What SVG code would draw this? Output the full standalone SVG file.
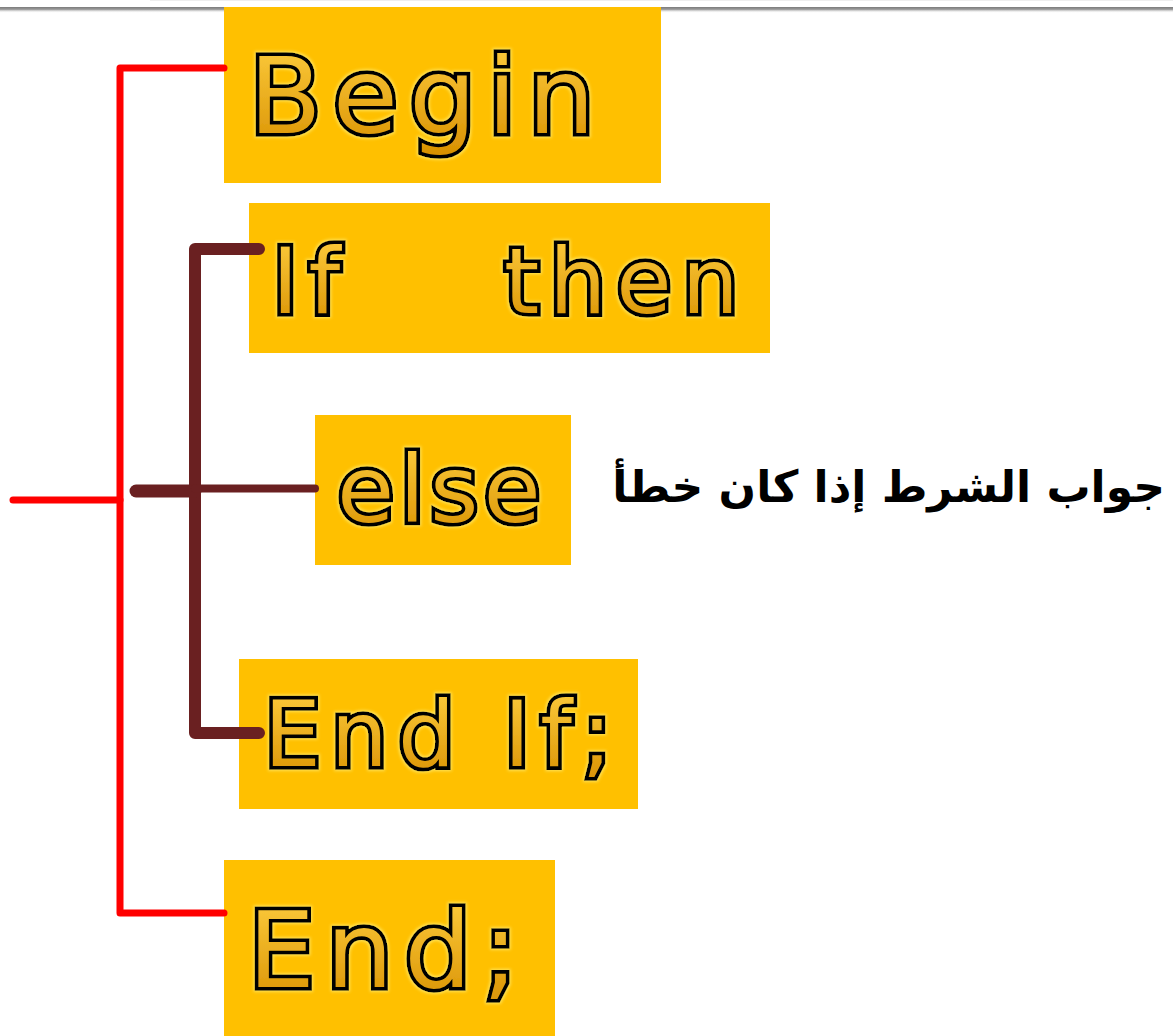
<svg xmlns="http://www.w3.org/2000/svg" width="1173" height="1036" viewBox="0 0 1173 1036">
  <defs>
    <linearGradient id="gold" x1="0" y1="0" x2="0" y2="1">
      <stop offset="0" stop-color="#FFCF40"/>
      <stop offset="1" stop-color="#D78F00"/>
    </linearGradient>
    <linearGradient id="rule" x1="0" y1="0" x2="0" y2="1">
      <stop offset="0" stop-color="#7a7a7a"/>
      <stop offset="0.4" stop-color="#9a9a9a"/>
      <stop offset="1" stop-color="#ffffff" stop-opacity="0"/>
    </linearGradient>
    <filter id="glow" x="-10%" y="-20%" width="120%" height="140%">
      <feMorphology in="SourceAlpha" operator="dilate" radius="1" result="fat"/>
      <feGaussianBlur in="fat" stdDeviation="1.8" result="soft"/>
      <feFlood flood-color="#FFE45A"/>
      <feComposite in2="soft" operator="in" result="halo"/>
      <feMerge>
        <feMergeNode in="halo"/>
        <feMergeNode in="SourceGraphic"/>
      </feMerge>
    </filter>
  </defs>
  <style>
    .box { fill: #FFC000; }
    .kw { font-family: "DejaVu Sans", Verdana, sans-serif; fill: url(#gold); stroke: #000; stroke-width: 7.5; stroke-linejoin: miter; paint-order: stroke; filter: url(#glow); }
    .big { font-size: 106px; letter-spacing: 11px; }
    .mid { font-size: 90px; letter-spacing: 10px; }
    .note { font-family: "DejaVu Sans", "Noto Sans", sans-serif; font-weight: bold; font-size: 44px; fill: #000; }
    .outer { fill: none; stroke: #FF0000; stroke-width: 7; stroke-linejoin: round; stroke-linecap: round; }
    .inner { fill: none; stroke: #6A2021; stroke-linejoin: round; stroke-linecap: round; }
  </style>

  <rect width="1173" height="1036" fill="#fff"/>
  <!-- header rule with soft shadow -->
  <rect x="150" y="0" width="1023" height="1" fill="#eeeeee"/>
  <rect x="0" y="7" width="1173" height="6" fill="url(#rule)"/>

  <g id="node-begin">
    <rect class="box" x="224" y="7" width="437" height="176"/>
    <text class="kw big" x="249" y="133">Begin</text>
  </g>

  <g id="node-if-then">
    <rect class="box" x="249" y="203" width="521" height="150"/>
    <text class="kw mid" y="313"><tspan x="272">If</tspan><tspan x="504">then</tspan></text>
  </g>

  <g id="node-else">
    <rect class="box" x="315" y="415" width="256" height="150"/>
    <text class="kw mid" x="337" y="522" style="font-size:93px;letter-spacing:5px">else</text>
  </g>

  <g id="node-end-if">
    <rect class="box" x="239" y="659" width="399" height="150"/>
    <text class="kw mid" x="264" y="766">End If;</text>
  </g>

  <g id="node-end">
    <rect class="box" x="224" y="860" width="331" height="176"/>
    <text class="kw big" x="248" y="987">End;</text>
  </g>

  <g id="label-else">
    <text class="note" x="1165" y="502" text-anchor="end">جواب الشرط إذا كان خطأ</text>
  </g>

  <g id="connectors">
    <!-- program block: Begin ... End; -->
    <path class="outer" d="M224,68 H120 V913 H224"/>
    <path class="outer" d="M13,500 H120"/>
    <!-- conditional block: If ... End If; -->
    <path class="inner" stroke-width="12" d="M259,249 H195 V733 H259"/>
    <path class="inner" stroke-width="13" d="M136,491 H195"/>
    <path class="inner" stroke-width="8" stroke-linecap="butt" d="M195,488.5 H315"/>
  </g>
</svg>
